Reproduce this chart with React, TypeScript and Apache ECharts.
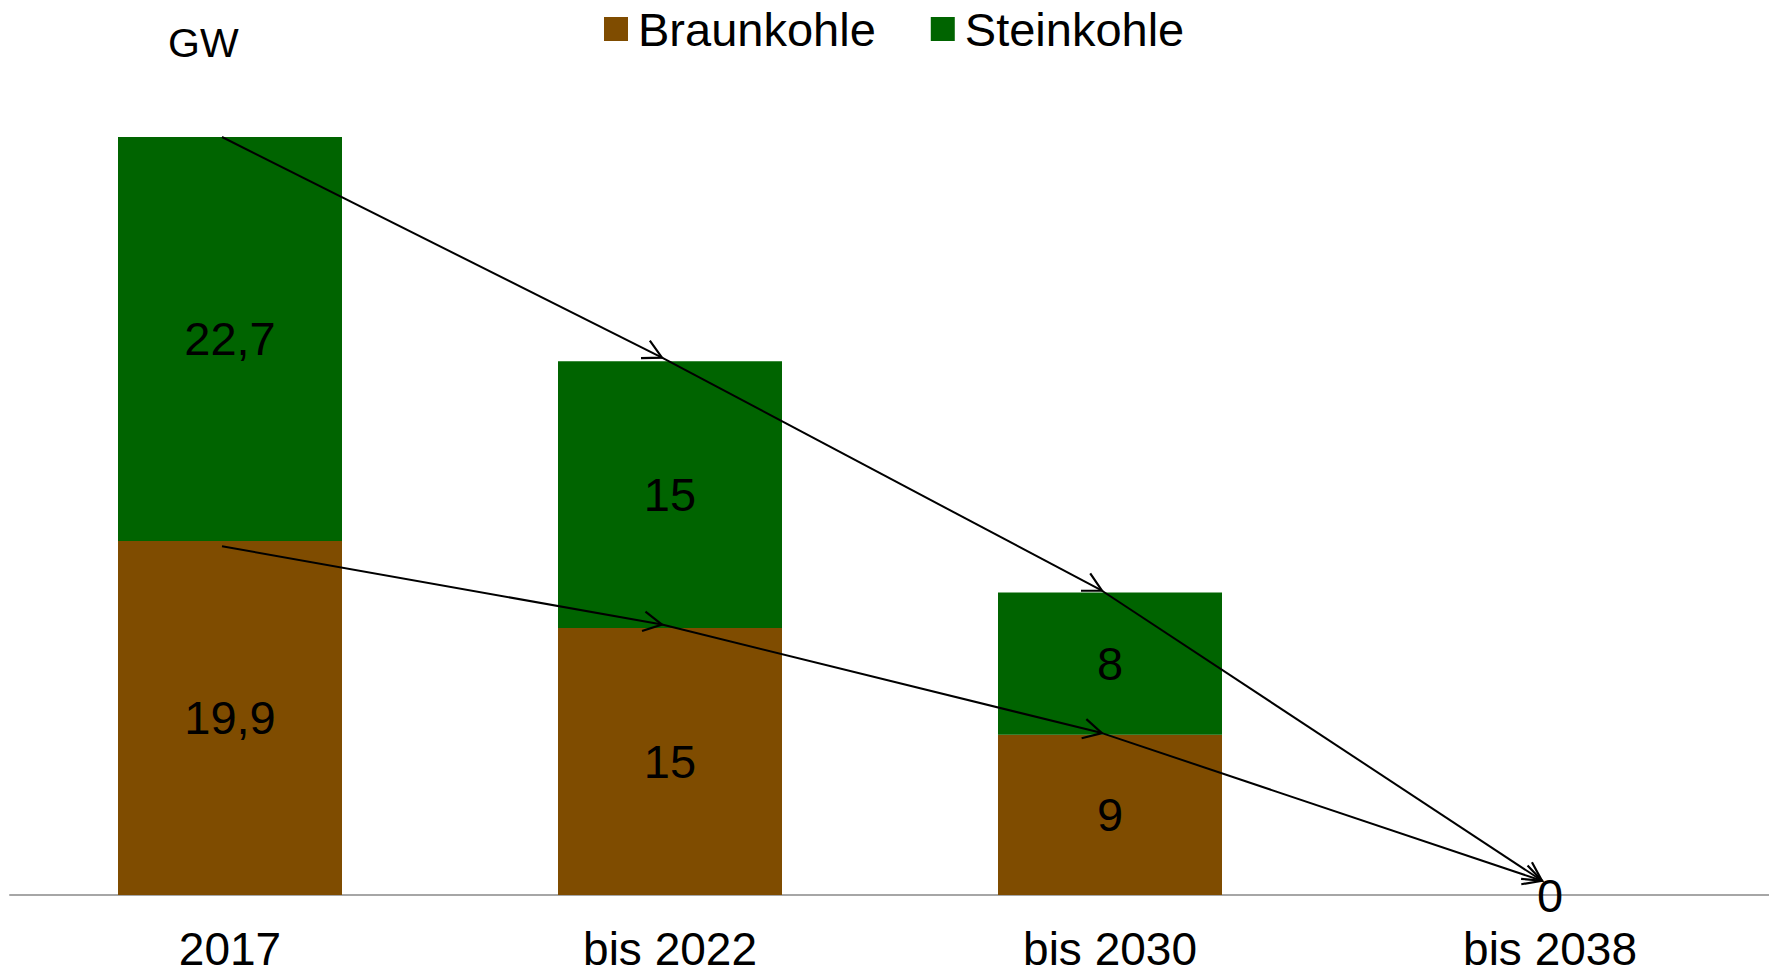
import React, { useEffect, useRef } from "react";
import * as echarts from "echarts";

const categories = ["2017", "bis 2022", "bis 2030", "bis 2038"];
const braunkohle = [19.9, 15, 9, 0];
const steinkohle = [22.7, 15, 8, 0];
// arrow waypoints (value at each category)
const upperArrow = [42.6, 30.2, 17.1, 0.8];
const lowerArrow = [19.6, 15.2, 9.1, 0.8];

const FONT = "'Liberation Sans', Arial, sans-serif";

function segments(vals: number[]) {
  const out: number[][] = [];
  for (let i = 0; i < vals.length - 1; i++) out.push([i, vals[i], i + 1, vals[i + 1]]);
  return out;
}

const fmt = (v: number) => String(v).replace(".", ",");

export default function App() {
  const ref = useRef<HTMLDivElement>(null);
  useEffect(() => {
    if (!ref.current) return;
    const chart = echarts.init(ref.current, null, { renderer: "svg" });
    const renderItem = (params: any, api: any) => {
      const p0 = api.coord([api.value(0), api.value(1)]);
      const p1 = api.coord([api.value(2), api.value(3)]);
      const dx = -8;
      const x0 = p0[0] + dx, y0 = p0[1];
      const x1 = p1[0] + dx, y1 = p1[1];
      const ang = Math.atan2(y1 - y0, x1 - x0);
      const L = 21, a = (28 * Math.PI) / 180;
      const w1 = [x1 - L * Math.cos(ang - a), y1 - L * Math.sin(ang - a)];
      const w2 = [x1 - L * Math.cos(ang + a), y1 - L * Math.sin(ang + a)];
      return {
        type: "group",
        children: [
          { type: "line", shape: { x1: x0, y1: y0, x2: x1, y2: y1 }, style: { stroke: "#000", lineWidth: 2 } },
          { type: "polyline", shape: { points: [w1, [x1, y1], w2] }, style: { stroke: "#000", lineWidth: 2.2, fill: null } },
        ],
      };
    };
    chart.setOption({
      animation: false,
      backgroundColor: "#fff",
      textStyle: { fontFamily: FONT },
      grid: { left: 10, right: 7, top: 137, bottom: 81 },
      legend: {
        data: ["Braunkohle", "Steinkohle"],
        left: 599,
        top: 0,
        icon: "rect",
        itemWidth: 24,
        itemHeight: 24,
        itemGap: 55,
        textStyle: { fontSize: 47, color: "#000", fontFamily: FONT, padding: [0, 0, 0, 5], lineHeight: 48 },
      },
      graphic: [
        {
          type: "text",
          left: 168,
          top: 22,
          style: { text: "GW", fontSize: 41, fill: "#000", fontFamily: FONT },
        },
      ],
      xAxis: {
        type: "category",
        data: categories,
        axisLine: { show: true, lineStyle: { color: "#a6a6a6", width: 2 } },
        axisTick: { show: false },
        axisLabel: { fontSize: 46, color: "#000", fontFamily: FONT, margin: 34, lineHeight: 40 },
      },
      yAxis: { type: "value", min: 0, max: 42.6, show: false, splitLine: { show: false } },
      series: [
        {
          name: "Braunkohle",
          type: "bar",
          stack: "k",
          data: braunkohle,
          barWidth: 224,
          itemStyle: { color: "#7f4c00" },
          label: {
            show: true,
            position: "inside",
            fontSize: 47,
            color: "#000",
            fontFamily: FONT,
            formatter: (p: any) => fmt(p.value),
          },
        },
        {
          name: "Steinkohle",
          type: "bar",
          stack: "k",
          data: steinkohle,
          barWidth: 224,
          itemStyle: { color: "#006400" },
          label: {
            show: true,
            position: "inside",
            fontSize: 47,
            color: "#000",
            fontFamily: FONT,
            formatter: (p: any) => (p.value === 0 ? "" : fmt(p.value)),
          },
        },
        {
          type: "custom",
          data: segments(upperArrow),
          encode: { x: 0, y: 1 },
          renderItem,
          clip: false,
          z: 5,
          silent: true,
        },
        {
          type: "custom",
          data: segments(lowerArrow),
          encode: { x: 0, y: 1 },
          renderItem,
          clip: false,
          z: 5,
          silent: true,
        },
      ],
    });
    return () => chart.dispose();
  }, []);
  return <div ref={ref} style={{ width: 1777, height: 976, margin: -8 }} />;
}
